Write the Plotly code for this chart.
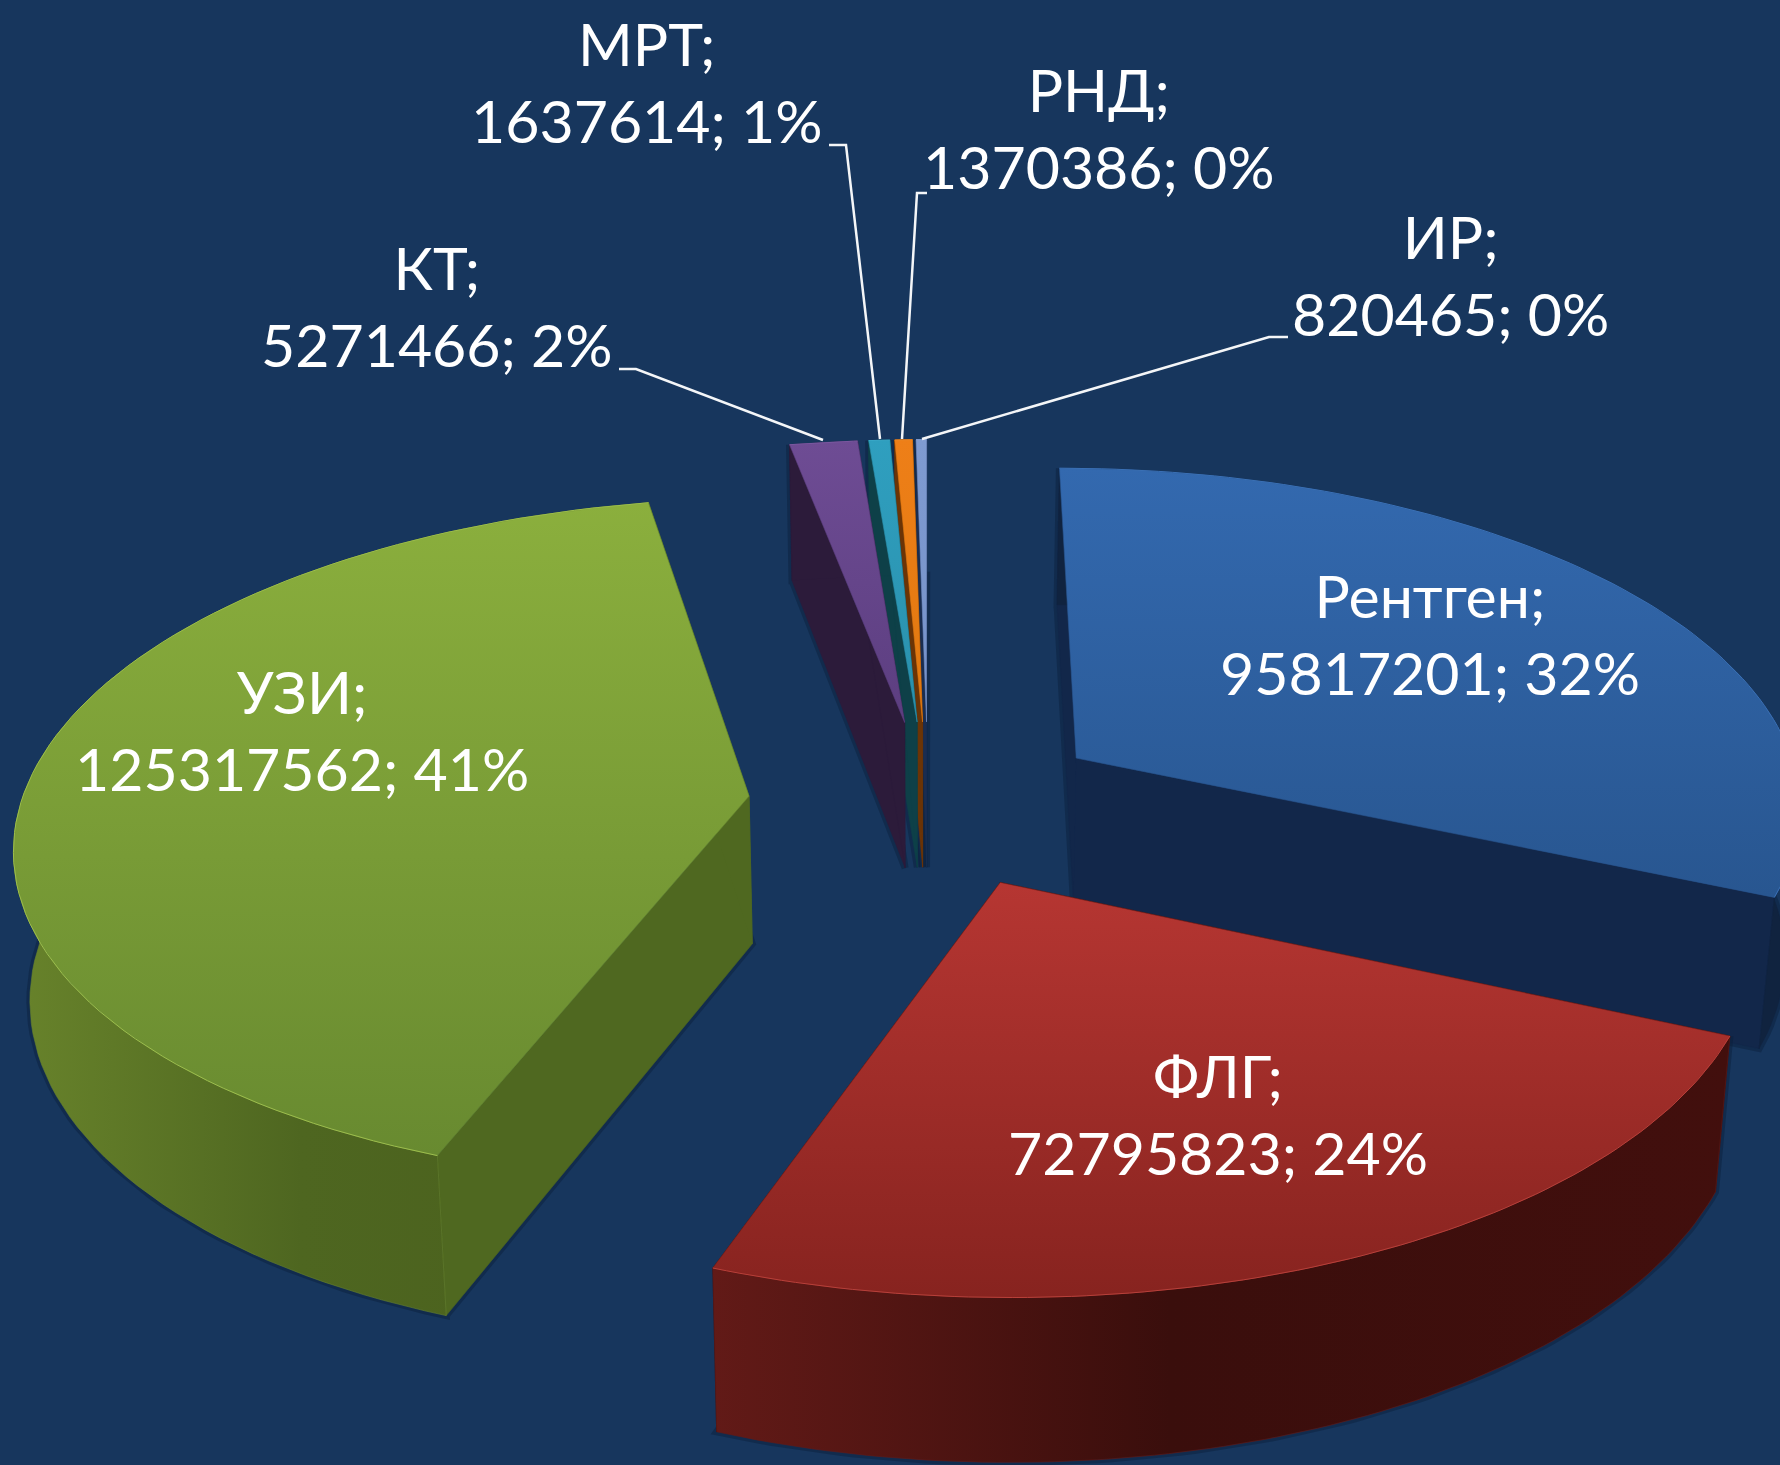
import numpy as np
import plotly.graph_objects as go

# ---- data ----
categories = ["Рентген", "ФЛГ", "УЗИ", "КТ", "МРТ", "РНД", "ИР"]
values = [95817201, 72795823, 125317562, 5271466, 1637614, 1370386, 820465]

# ---- styles ----
BG = "#17365D"
TOP = [("#3369AF", "#285690"), ("#B63632", "#87231F"), ("#8BAF3D", "#688A30"),
       ("#6E4C94", "#5C3E80"), ("#2F9FBF", "#2A90AC"), ("#EE7F18", "#E0780F"), ("#7F9BD1", "#7591C8")]
OUTER = [("#10233F", "#10233F", "#10233F"), ("#621A17", "#3A0E0C", "#420F0D"), ("#68832B", "#4E6620", "#4A601D"),
         ("#2C1B3A", "#2C1B3A", "#2C1B3A"), ("#0E4048", "#0E4048", "#0E4048"),
         ("#6B3406", "#6B3406", "#6B3406"), ("#1A2D50", "#1A2D50", "#1A2D50")]
SIDE = ["#12274A", "#2E0B0A", "#4F6820", "#2C1B3A", "#0E4048", "#6B3406", "#1A2D50"]
RIM = ["#3A70B5", "#B8403A", "#9DBE4D", "#7A58A0", "#38A8C8", "#F08A28", "#8AA5D8"]

# ---- projection geometry ----
CX, CY = 928, 803
EXPLODE = 180
RADIUS = 728
K = 0.465
P = 0.13
DEPTH = 148
VANISH = 0.018


def project(U, V):
    s = 1 / (1 + P * V / RADIUS)
    return CX + U * s, CY - K * V * s, s


def lower(x, y, s):
    return x + VANISH * (CX - x), y + DEPTH * (1 + 0.6 * (s - 1))


def poly(fig, xs, ys, colors, kind="vertical"):
    spec = dict(
        x=list(xs) + [xs[0]], y=list(ys) + [ys[0]], mode="lines", fill="toself",
        hoverinfo="skip", showlegend=False,
        line=dict(color=colors[0], width=0.6),
    )
    if len(set(colors)) == 1:
        spec["fillcolor"] = colors[0]
    else:
        stops = [0, 0.45, 1] if len(colors) == 3 else [0, 1]
        spec["fillgradient"] = dict(type=kind, colorscale=[[a, c] for a, c in zip(stops, colors)])
    fig.add_trace(go.Scatter(**spec))


total = sum(values)
edges = np.concatenate([[0], np.cumsum(values)]) / total * 360
fig = go.Figure()
order = [6, 5, 4, 3, 0, 2, 1]

for i in order:
    a0, a1 = edges[i], edges[i + 1]
    mid = np.radians((a0 + a1) / 2)
    U0, V0 = EXPLODE * np.sin(mid), EXPLODE * np.cos(mid)
    apex = project(U0, V0)
    base = lower(*apex)
    arc = [project(U0 + RADIUS * np.sin(np.radians(d)), V0 + RADIUS * np.cos(np.radians(d)))
           for d in np.linspace(a0, a1, 90)]
    tx = [p[0] for p in arc]
    ty = [p[1] for p in arc]
    low = [lower(*p) for p in arc]
    bx = [p[0] for p in low]
    by = [p[1] for p in low]

    # soft shadow around the foot of the slice
    fig.add_trace(go.Scatter(
        x=[tx[0], bx[0]] + bx + [base[0], bx[0]], y=[ty[0], by[0]] + by + [base[1], by[0]], mode="lines",
        line=dict(color="rgba(12,30,58,0.45)", width=7), hoverinfo="skip", showlegend=False))
    # radial walls
    poly(fig, [apex[0], tx[0], bx[0], base[0]], [apex[1], ty[0], by[0], base[1]], (SIDE[i], SIDE[i]))
    poly(fig, [apex[0], tx[-1], bx[-1], base[0]], [apex[1], ty[-1], by[-1], base[1]], (SIDE[i], SIDE[i]))
    # outer wall
    poly(fig, tx + bx[::-1], ty + by[::-1], OUTER[i], kind="horizontal")
    # top face (axis runs downward, so the gradient stops are given bottom first)
    poly(fig, [apex[0]] + tx, [apex[1]] + ty, TOP[i][::-1], kind="vertical")
    # thin rim light
    fig.add_trace(go.Scatter(x=tx, y=ty, mode="lines", line=dict(color=RIM[i], width=1),
                             hoverinfo="skip", showlegend=False))

# ---- leader lines ----
LEADERS = {
    "КТ": [(619, 369), (636, 369), (823, 440)],
    "МРТ": [(829, 145), (846, 145), (880, 439)],
    "РНД": [(927, 193), (917, 193), (902, 439)],
    "ИР": [(1288, 337), (1269, 337), (922, 439)],
}
for pts in LEADERS.values():
    fig.add_trace(go.Scatter(x=[p[0] for p in pts], y=[p[1] for p in pts], mode="lines",
                             line=dict(color="#F4F6F8", width=2.5), hoverinfo="skip", showlegend=False))

# ---- labels ----
LABEL_POS = {
    "Рентген": (1430, 634), "ФЛГ": (1218, 1114), "УЗИ": (302, 730), "КТ": (437, 306),
    "МРТ": (647, 82), "РНД": (1099, 128), "ИР": (1450, 275),
}
annotations = []
for name, val in zip(categories, values):
    x, y = LABEL_POS[name]
    annotations.append(dict(
        x=x, y=y, xref="x", yref="y", showarrow=False, xanchor="center", yanchor="middle", align="center",
        text=f"{name};<br>{val}; {round(val / total * 100)}%",
        font=dict(family="Lato", size=59, color="#FFFFFF"),
    ))

fig.update_layout(
    width=1780, height=1465, margin=dict(l=0, r=0, t=0, b=0),
    paper_bgcolor=BG, plot_bgcolor=BG, showlegend=False,
    xaxis=dict(visible=False, range=[0, 1780], fixedrange=True),
    yaxis=dict(visible=False, range=[1465, 0], fixedrange=True),
    annotations=annotations,
)
fig.write_html("out.html", post_script="document.body.style.margin='0';document.body.style.overflow='hidden';document.body.style.background='#17365D';",
               config={"displayModeBar": False})
